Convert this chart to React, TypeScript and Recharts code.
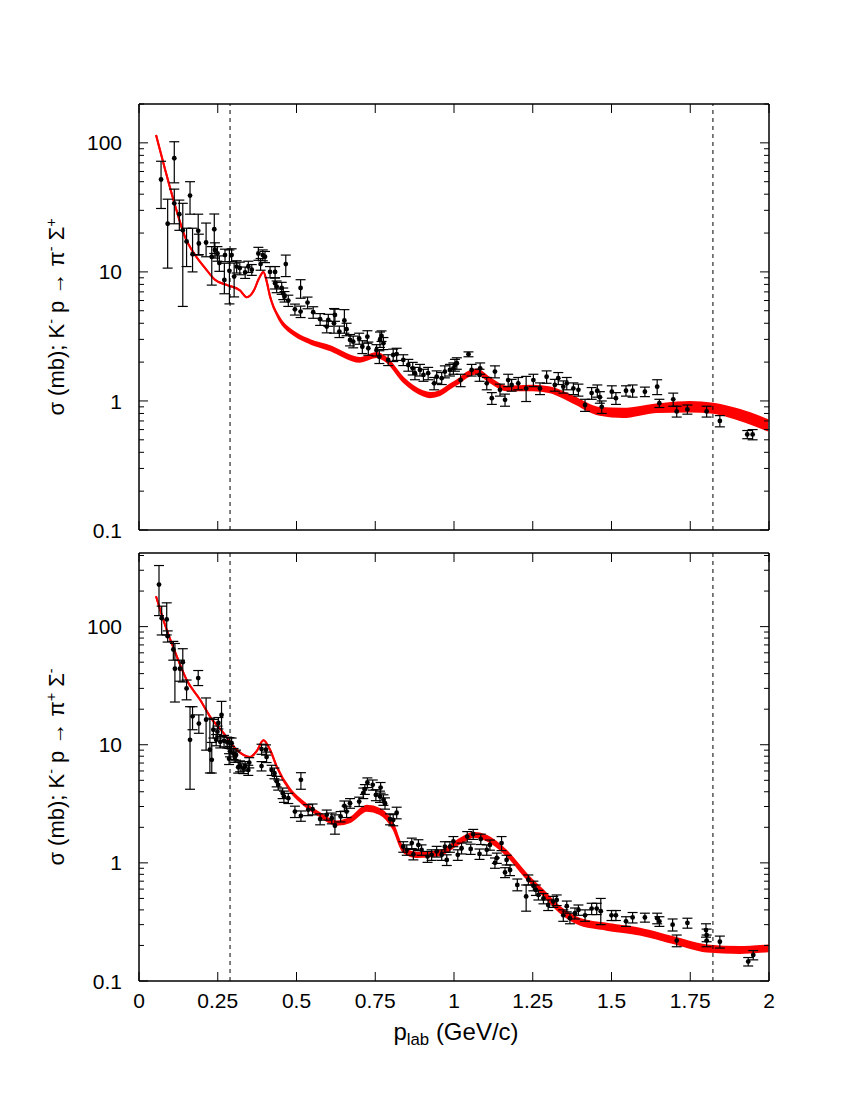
import {
  ComposedChart, XAxis, YAxis, Area, Scatter, ErrorBar, ReferenceLine,
} from 'recharts'

const FONT = '"Liberation Sans", Arial, Helvetica, sans-serif'

const xTicks = [0, 0.25, 0.5, 0.75, 1, 1.25, 1.5, 1.75, 2]
const thresholds = [0.289, 1.822]
const majorY = [0.1, 1, 10, 100]
const topYTicks = [
  0.1, 0.2, 0.3, 0.4, 0.5, 0.6, 0.7, 0.8, 0.9,
  1, 2, 3, 4, 5, 6, 7, 8, 9,
  10, 20, 30, 40, 50, 60, 70, 80, 90,
  100, 200,
]
const bottomYTicks = [
  0.1, 0.2, 0.3, 0.4, 0.5, 0.6, 0.7, 0.8, 0.9,
  1, 2, 3, 4, 5, 6, 7, 8, 9,
  10, 20, 30, 40, 50, 60, 70, 80, 90,
  100, 200, 300, 400,
]

// model band: [p_lab, lower, upper]
const topFit = [
  [0.054, 115, 115], [0.083, 62, 62], [0.114, 33, 33], [0.146, 18.7, 18.7],
  [0.178, 13.5, 13.5], [0.21, 10.7, 10.7], [0.241, 8.7, 8.7], [0.28, 7.9, 7.9],
  [0.32, 7.2, 7.2], [0.342, 6.36, 6.36], [0.365, 7.2, 7.2], [0.38, 8.8, 8.8],
  [0.395, 10.0, 10.0], [0.405, 8.42, 8.58], [0.416, 6.38, 6.5], [0.448, 4.17, 4.33],
  [0.49, 3.27, 3.45], [0.543, 2.8, 2.96], [0.606, 2.48, 2.66], [0.7, 2.01, 2.15],
  [0.754, 2.19, 2.35], [0.786, 2.01, 2.15], [0.84, 1.4, 1.5], [0.9, 1.11, 1.19],
  [0.924, 1.07, 1.15], [0.955, 1.11, 1.19], [0.987, 1.25, 1.34], [1.019, 1.4, 1.5],
  [1.04, 1.53, 1.65], [1.072, 1.63, 1.75], [1.114, 1.4, 1.5], [1.167, 1.21, 1.29],
  [1.25, 1.21, 1.31], [1.305, 1.17, 1.27], [1.378, 0.97, 1.08], [1.463, 0.78, 0.88],
  [1.537, 0.75, 0.87], [1.643, 0.82, 0.94], [1.749, 0.83, 0.98], [1.823, 0.81, 0.95],
  [1.908, 0.71, 0.85], [1.997, 0.59, 0.71],
]

const bottomFit = [
  [0.054, 181, 181], [0.088, 94, 94], [0.12, 56, 56], [0.151, 35.5, 35.5],
  [0.194, 24, 24], [0.225, 17.4, 17.4], [0.268, 12.6, 12.6], [0.31, 9.07, 9.07],
  [0.352, 7.87, 7.87], [0.373, 8.77, 8.77], [0.395, 10.9, 10.9], [0.416, 9.07, 9.07],
  [0.437, 6.5, 6.6], [0.479, 4.08, 4.24], [0.522, 3.12, 3.28], [0.575, 2.47, 2.63],
  [0.628, 2.1, 2.24], [0.67, 2.22, 2.4], [0.723, 2.76, 3.04], [0.765, 2.59, 2.85],
  [0.807, 1.94, 2.12], [0.839, 1.24, 1.34], [0.882, 1.12, 1.22], [0.955, 1.16, 1.26],
  [1.008, 1.41, 1.53], [1.045, 1.6, 1.74], [1.061, 1.66, 1.8], [1.104, 1.55, 1.69],
  [1.167, 1.16, 1.26], [1.231, 0.735, 0.8], [1.284, 0.53, 0.58], [1.337, 0.38, 0.42],
  [1.4, 0.3, 0.335], [1.485, 0.272, 0.305], [1.59, 0.247, 0.277], [1.696, 0.21, 0.235],
  [1.802, 0.178, 0.2], [1.908, 0.173, 0.194], [1.998, 0.179, 0.2],
]

// measurements: [p_lab, sigma, err down, err up]
const topPoints = [
  [0.07, 52, 21, 20], [0.091, 23.6, 12.9, 13], [0.112, 76, 27, 26], [0.112, 34, 10.4, 9.8],
  [0.128, 28, 7, 8], [0.139, 21, 15.6, 13], [0.151, 17.2, 6.2, 4.6], [0.162, 39, 11, 11],
  [0.17, 13.7, 3.7, 8.1], [0.188, 20.8, 7.3, 7.2], [0.19, 16.6, 3, 3], [0.213, 16.9, 3.8, 7],
  [0.231, 13.1, 5.2, 2.6], [0.239, 21.4, 7.5, 6.7], [0.241, 14.8, 2, 2], [0.249, 13.9, 1.8, 1.8],
  [0.255, 11.7, 1.6, 1.6], [0.273, 13.5, 1.5, 1.5], [0.271, 8.67, 1.9, 3], [0.287, 10.2, 4.55, 4.6],
  [0.294, 13.5, 1.5, 1.6], [0.302, 9.2, 2.8, 2.5], [0.31, 11, 1.2, 1.2], [0.32, 10.7, 1.2, 1.2],
  [0.337, 9.9, 1, 1], [0.347, 11, 1.1, 1.1], [0.358, 10.4, 1, 1], [0.379, 13.9, 1.6, 1.6],
  [0.386, 11.5, 1.2, 1.2], [0.393, 13.5, 1.3, 1.3], [0.4, 13.1, 1.3, 1.3], [0.416, 10, 1, 1],
  [0.432, 10, 1, 1], [0.432, 8.17, 0.8, 0.8], [0.437, 7.7, 0.8, 0.8], [0.453, 7.5, 0.8, 0.8],
  [0.458, 6.8, 0.7, 0.7], [0.466, 11.5, 2.3, 2], [0.462, 6.44, 0.6, 0.6], [0.474, 6, 0.6, 0.6],
  [0.495, 5.13, 0.5, 0.5], [0.513, 7.5, 1.25, 1.2], [0.513, 4.93, 0.5, 0.5], [0.535, 5.78, 0.6, 0.6],
  [0.553, 4.87, 0.5, 0.5], [0.575, 4.3, 0.45, 0.45], [0.596, 3.77, 0.4, 0.4], [0.601, 4.24, 0.45, 0.45],
  [0.619, 4, 0.65, 1.2], [0.622, 4.64, 0.5, 0.5], [0.636, 3.45, 0.35, 0.35], [0.652, 4.2, 0.85, 0.9],
  [0.659, 3.6, 0.4, 0.4], [0.67, 2.97, 0.3, 0.3], [0.68, 2.88, 0.3, 0.3], [0.699, 3.05, 0.3, 0.3],
  [0.709, 2.63, 0.3, 0.3], [0.725, 3.15, 0.35, 0.35], [0.728, 2.56, 0.3, 0.3], [0.754, 2.48, 0.25, 0.25],
  [0.763, 2.2, 0.25, 0.25], [0.765, 2.97, 0.37, 0.45], [0.77, 3.19, 0.3, 0.3], [0.776, 2.8, 0.3, 0.3],
  [0.791, 2.08, 0.2, 0.2], [0.807, 2.27, 0.25, 0.25], [0.818, 2.31, 0.25, 0.25], [0.839, 2.08, 0.2, 0.2],
  [0.855, 1.9, 0.2, 0.2], [0.869, 1.79, 0.2, 0.2], [0.876, 1.64, 0.18, 0.18], [0.892, 1.74, 0.18, 0.18],
  [0.903, 1.59, 0.17, 0.17], [0.918, 1.64, 0.18, 0.18], [0.937, 1.37, 0.15, 0.15], [0.945, 1.54, 0.17, 0.17],
  [0.961, 1.5, 0.16, 0.16], [0.971, 1.69, 0.18, 0.18], [0.987, 1.74, 0.18, 0.18], [0.998, 1.79, 0.18, 0.18],
  [1.003, 1.9, 0.2, 0.2], [1.009, 1.96, 0.2, 0.2], [1.021, 1.45, 0.16, 0.16], [1.046, 2.3, 0.1, 0.1],
  [1.056, 1.74, 0.18, 0.18], [1.081, 1.59, 0.17, 0.17], [1.083, 1.79, 0.18, 0.18], [1.104, 1.37, 0.15, 0.15],
  [1.12, 1.05, 0.11, 0.11], [1.13, 1.69, 0.18, 0.18], [1.146, 1.22, 0.13, 0.13], [1.162, 1.02, 0.11, 0.11],
  [1.172, 1.45, 0.16, 0.16], [1.183, 1.33, 0.14, 0.14], [1.204, 1.37, 0.15, 0.15], [1.229, 1.25, 0.26, 0.3],
  [1.252, 1.45, 0.16, 0.16], [1.273, 1.25, 0.13, 0.13], [1.294, 1.54, 0.17, 0.17], [1.32, 1.33, 0.14, 0.14],
  [1.331, 1.5, 0.16, 0.16], [1.347, 1.29, 0.14, 0.14], [1.358, 1.37, 0.15, 0.15], [1.379, 1.25, 0.13, 0.13],
  [1.395, 1.22, 0.13, 0.13], [1.416, 0.93, 0.1, 0.1], [1.437, 1.15, 0.12, 0.12], [1.455, 1.2, 0.13, 0.13],
  [1.463, 1.07, 0.11, 0.11], [1.469, 0.9, 0.1, 0.1], [1.501, 1.18, 0.13, 0.13], [1.514, 1.05, 0.11, 0.11],
  [1.546, 1.2, 0.11, 0.11], [1.567, 1.2, 0.13, 0.13], [1.606, 1.18, 0.1, 0.1], [1.645, 1.29, 0.17, 0.17],
  [1.652, 0.96, 0.07, 0.07], [1.696, 1.03, 0.12, 0.12], [1.707, 0.83, 0.08, 0.08], [1.741, 0.86, 0.07, 0.07],
  [1.802, 0.83, 0.08, 0.08], [1.844, 0.7, 0.07, 0.07], [1.931, 0.55, 0.04, 0.04], [1.948, 0.55, 0.05, 0.05],
]

const bottomPoints = [
  [0.0635, 227, 103, 102], [0.072, 118, 33, 31], [0.088, 115, 30, 44], [0.091, 83, 9, 9],
  [0.109, 64, 12, 11], [0.114, 44, 21, 28], [0.13, 44, 9.5, 8], [0.139, 50, 16, 15],
  [0.151, 30, 6, 5.3], [0.188, 36.7, 5, 5.8], [0.162, 11, 6.8, 10], [0.17, 17.4, 4, 3.6],
  [0.19, 15.1, 2.6, 2.8], [0.213, 16.3, 7.3, 8.6], [0.225, 9.07, 3.3, 7.7], [0.231, 7.46, 1.7, 3],
  [0.236, 13.4, 2, 3], [0.249, 12.9, 1.5, 1.5], [0.252, 15.3, 1.7, 1.7], [0.262, 17.9, 6.2, 5.4],
  [0.245, 11, 1.2, 1.2], [0.258, 10.6, 1.2, 1.2], [0.27, 10.8, 1.2, 1.2], [0.28, 10.5, 1.1, 1.1],
  [0.287, 10.4, 1.1, 1.1], [0.294, 10.3, 1.1, 1.1], [0.289, 8.8, 0.9, 0.9], [0.3, 8.4, 0.9, 0.9],
  [0.286, 7.6, 0.8, 0.8], [0.305, 7.9, 0.8, 0.8], [0.308, 8.2, 0.8, 0.8], [0.315, 6.45, 0.7, 0.7],
  [0.321, 6.6, 0.7, 0.7], [0.331, 6.3, 0.6, 0.6], [0.337, 6.6, 0.6, 0.6], [0.347, 6.1, 0.6, 0.6],
  [0.35, 7.07, 0.7, 0.7], [0.389, 6.6, 0.6, 0.6], [0.389, 9.2, 0.9, 0.9], [0.403, 9.07, 0.9, 0.9],
  [0.405, 7.87, 0.8, 0.8], [0.421, 6.1, 0.6, 0.6], [0.43, 5.75, 0.6, 0.6], [0.437, 4.9, 0.5, 0.5],
  [0.442, 4.58, 0.45, 0.45], [0.456, 3.9, 0.4, 0.4], [0.46, 3.65, 0.4, 0.4], [0.474, 3.53, 0.35, 0.35],
  [0.495, 2.72, 0.3, 0.3], [0.514, 5.05, 0.85, 0.75], [0.514, 2.5, 0.25, 0.25], [0.537, 2.81, 0.3, 0.3],
  [0.551, 2.85, 0.3, 0.3], [0.575, 2.35, 0.25, 0.25], [0.596, 2.55, 0.25, 0.25], [0.612, 2.39, 0.25, 0.25],
  [0.622, 2.06, 0.31, 0.49], [0.64, 2.47, 0.25, 0.25], [0.652, 3.04, 0.3, 0.3], [0.659, 2.72, 0.3, 0.3],
  [0.67, 3.2, 0.3, 0.3], [0.699, 3.3, 0.3, 0.3], [0.712, 3.9, 0.4, 0.4], [0.717, 4.2, 0.4, 0.4],
  [0.725, 4.79, 0.45, 0.45], [0.742, 4.58, 0.45, 0.45], [0.752, 3.76, 0.4, 0.4], [0.767, 4.34, 0.45, 0.45],
  [0.765, 3.65, 0.4, 0.4], [0.776, 3.42, 0.35, 0.35], [0.781, 3.2, 0.35, 0.35], [0.797, 2.35, 0.25, 0.25],
  [0.807, 2.31, 0.25, 0.25], [0.818, 2.66, 0.3, 0.3], [0.839, 1.37, 0.14, 0.14], [0.85, 1.29, 0.13, 0.13],
  [0.866, 1.47, 0.15, 0.15], [0.871, 1.18, 0.12, 0.12], [0.887, 1.42, 0.15, 0.15], [0.897, 1.29, 0.13, 0.13],
  [0.916, 1.13, 0.12, 0.12], [0.929, 1.17, 0.12, 0.12], [0.945, 1.25, 0.13, 0.13], [0.961, 1.17, 0.12, 0.12],
  [0.977, 1.06, 0.11, 0.11], [0.971, 1.37, 0.14, 0.14], [0.987, 1.37, 0.14, 0.14], [0.998, 1.52, 0.15, 0.15],
  [1.012, 1.17, 0.12, 0.12], [1.024, 1.33, 0.14, 0.14], [1.042, 1.67, 0.17, 0.17], [1.053, 1.31, 0.13, 0.13],
  [1.061, 1.75, 0.17, 0.17], [1.081, 1.19, 0.12, 0.12], [1.085, 1.59, 0.16, 0.16], [1.104, 1.29, 0.13, 0.13],
  [1.114, 1.42, 0.14, 0.14], [1.13, 1, 0.1, 0.1], [1.136, 1.1, 0.11, 0.11], [1.151, 1.47, 0.2, 0.2],
  [1.162, 0.83, 0.08, 0.08], [1.167, 1.06, 0.1, 0.1], [1.178, 0.87, 0.09, 0.09], [1.201, 0.65, 0.07, 0.08],
  [1.229, 0.52, 0.13, 0.13], [1.236, 0.72, 0.07, 0.07], [1.252, 0.64, 0.06, 0.06], [1.26, 0.59, 0.06, 0.06],
  [1.268, 0.535, 0.05, 0.05], [1.284, 0.5, 0.05, 0.05], [1.299, 0.44, 0.045, 0.045], [1.315, 0.47, 0.05, 0.05],
  [1.326, 0.485, 0.05, 0.05], [1.347, 0.36, 0.04, 0.04], [1.358, 0.43, 0.045, 0.045], [1.368, 0.34, 0.035, 0.035],
  [1.384, 0.375, 0.04, 0.04], [1.395, 0.4, 0.04, 0.04], [1.416, 0.36, 0.04, 0.04], [1.437, 0.41, 0.045, 0.045],
  [1.453, 0.41, 0.045, 0.045], [1.466, 0.39, 0.09, 0.11], [1.5, 0.36, 0.035, 0.035], [1.514, 0.36, 0.035, 0.035],
  [1.546, 0.32, 0.03, 0.03], [1.567, 0.345, 0.035, 0.035], [1.606, 0.345, 0.03, 0.03], [1.645, 0.34, 0.035, 0.035],
  [1.652, 0.32, 0.03, 0.03], [1.694, 0.3, 0.035, 0.035], [1.707, 0.22, 0.025, 0.025], [1.741, 0.31, 0.03, 0.03],
  [1.8, 0.27, 0.035, 0.035], [1.802, 0.245, 0.03, 0.03], [1.802, 0.22, 0.025, 0.025], [1.844, 0.215, 0.025, 0.025],
  [1.934, 0.146, 0.012, 0.012], [1.95, 0.166, 0.015, 0.015],
]

function XTick({ x, y, payload, side, showLabel }: any) {
  const d = side === 'bottom' ? -9 : 9
  return (
    <g>
      <line x1={x} x2={x} y1={y} y2={y + d} stroke="#000" strokeWidth={1} />
      {showLabel && (
        <text x={x} y={y + 27} textAnchor="middle" fontSize={21} fontFamily={FONT} fill="#000">
          {payload.value}
        </text>
      )}
    </g>
  )
}

function YTick({ x, y, payload, side }: any) {
  const v = payload.value
  const major = majorY.includes(v)
  const len = major ? 9 : 5
  const d = side === 'left' ? len : -len
  return (
    <g>
      <line x1={x} x2={x + d} y1={y} y2={y} stroke="#000" strokeWidth={1} />
      {side === 'left' && major && (
        <text x={x - 17} y={y} dy="0.36em" textAnchor="end" fontSize={21} fontFamily={FONT} fill="#000">
          {v}
        </text>
      )}
    </g>
  )
}

const dot = (props: any) => <circle cx={props.cx} cy={props.cy} r={2.4} fill="#000" />

function Panel({ fit, points, yTicks, yMax, height, margin, showXLabels }: any) {
  const fitData = fit.map(([p, lo, hi]: number[]) => ({ p, band: [lo, hi] }))
  const pts = points.map(([p, s, dn, up]: number[]) => ({ p, s, e: [dn, up] }))
  const frame = { stroke: '#000', strokeWidth: 1.5 }

  return (
    <ComposedChart width={850} height={height} data={fitData} margin={margin}>
      <XAxis
        xAxisId="b" type="number" dataKey="p" domain={[0, 2]} ticks={xTicks} interval={0}
        height={1} tickSize={0} tickMargin={0} allowDataOverflow axisLine={frame} tickLine={false}
        tick={(p: any) => <XTick {...p} side="bottom" showLabel={showXLabels} />}
      />
      <XAxis
        xAxisId="t" orientation="top" type="number" dataKey="p" domain={[0, 2]} ticks={xTicks} interval={0}
        height={1} tickSize={0} tickMargin={0} allowDataOverflow axisLine={frame} tickLine={false}
        tick={(p: any) => <XTick {...p} side="top" />}
      />
      <YAxis
        yAxisId="l" type="number" scale="log" domain={[0.1, yMax]} ticks={yTicks} interval={0}
        width={1} tickSize={0} tickMargin={0} allowDataOverflow axisLine={frame} tickLine={false}
        tick={(p: any) => <YTick {...p} side="left" />}
      />
      <YAxis
        yAxisId="r" orientation="right" type="number" scale="log" domain={[0.1, yMax]} ticks={yTicks} interval={0}
        width={1} tickSize={0} tickMargin={0} allowDataOverflow axisLine={frame} tickLine={false}
        tick={(p: any) => <YTick {...p} side="right" />}
      />
      {thresholds.map(t => (
        <ReferenceLine key={t} x={t} xAxisId="b" yAxisId="l" stroke="#000" strokeWidth={1} strokeDasharray="4 4" />
      ))}
      <Area
        xAxisId="b" yAxisId="l" dataKey="band" type="monotone"
        stroke="#ff0000" strokeWidth={2} fill="#ff0000" fillOpacity={1}
        dot={false} activeDot={false} isAnimationActive={false}
      />
      <Scatter xAxisId="b" yAxisId="l" data={pts} dataKey="s" fill="#000" shape={dot} isAnimationActive={false}>
        <ErrorBar dataKey="e" direction="y" width={5} stroke="#000" strokeWidth={1.2} isAnimationActive={false} />
      </Scatter>
    </ComposedChart>
  )
}

const sup = { fontSize: '0.65em', verticalAlign: '0.55em', lineHeight: 0 }

function YTitle({ top, plus }: { top: number, plus: boolean }) {
  return (
    <div
      style={{
        position: 'absolute', left: 57, top, transform: 'translate(-50%, -50%) rotate(-90deg)',
        whiteSpace: 'nowrap', fontSize: 22, fontFamily: FONT, color: '#000', lineHeight: 1,
      }}
    >
      σ (mb); K<span style={sup}>-</span> p → π<span style={sup}>{plus ? '+' : '-'}</span> Σ<span style={sup}>{plus ? '-' : '+'}</span>
    </div>
  )
}

export default function App() {
  return (
    <div style={{ position: 'absolute', left: 0, top: 0, width: 850, height: 1100, background: '#fff' }}>
      <div style={{ position: 'absolute', left: 0, top: 0 }}>
        <Panel
          fit={topFit} points={topPoints} yTicks={topYTicks} yMax={200} height={550}
          margin={{ top: 103, right: 80, bottom: 19, left: 138 }} showXLabels={false}
        />
      </div>
      <div style={{ position: 'absolute', left: 0, top: 540 }}>
        <Panel
          fit={bottomFit} points={bottomPoints} yTicks={bottomYTicks} yMax={420} height={560}
          margin={{ top: 12, right: 80, bottom: 118, left: 138 }} showXLabels
        />
      </div>
      <YTitle top={317} plus={false} />
      <YTitle top={767} plus />
      <div
        style={{
          position: 'absolute', left: 456, top: 1032, transform: 'translate(-50%, -50%)',
          whiteSpace: 'nowrap', fontSize: 24, fontFamily: FONT, color: '#000', lineHeight: 1,
        }}
      >
        p<span style={{ fontSize: '0.7em', verticalAlign: '-0.3em', lineHeight: 0 }}>lab</span> (GeV/c)
      </div>
    </div>
  )
}
